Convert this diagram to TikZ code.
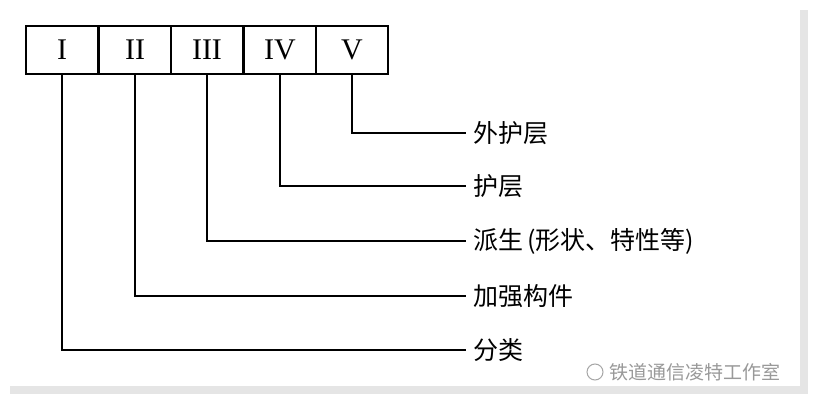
\documentclass[tikz,border=0pt]{standalone}
\usepackage{fontspec}
\setmainfont{Liberation Serif}
\newfontfamily\cjk{Noto Sans CJK SC}
\begin{document}
\begin{tikzpicture}[x=1pt,y=-1pt,
  cell/.style={draw,line width=1.8pt,minimum width=72pt,minimum height=48pt,inner sep=0pt,font=\fontsize{30}{30}\selectfont},
  lbl/.style={anchor=west,inner sep=0pt,font=\cjk\fontsize{25}{25}\selectfont},
  conn/.style={line width=1.3pt}]
\useasboundingbox (0,0) rectangle (816,409);
\fill[gray!35] (14,14) rectangle (806,392);
\fill[gray!20] (10,10) rectangle (808,394);
\fill[white] (6,6) rectangle (800,386);
\node[cell] (b1) at (62,50) {I};
\node[cell] (b2) at (135,50) {II};
\node[cell] (b3) at (207,50) {III};
\node[cell] (b4) at (280,50) {IV};
\node[cell] (b5) at (352,50) {V};
\coordinate (e5) at (466,133);
\coordinate (e4) at (466,186);
\coordinate (e3) at (466,241);
\coordinate (e2) at (466,296);
\coordinate (e1) at (466,350);
\foreach \i in {1,...,5}{\draw[conn] (b\i.south) |- (e\i);}
\node[lbl] (l5) at (473,133) {外护层};
\node[lbl] (l4) at (473,186) {护层};
\node[lbl] (l3) at (473,241) {派生\,(形状、特性等)};
\node[lbl] (l2) at (473,296) {加强构件};
\node[lbl] (l1) at (473,350) {分类};
\draw[gray!70,line width=1pt] (595,372) circle (8pt);
\node[anchor=west,inner sep=0pt,text=gray!80,font=\cjk\fontsize{19}{19}\selectfont] (wm) at (609,372) {铁道通信凌特工作室};
\end{tikzpicture}
\end{document}
